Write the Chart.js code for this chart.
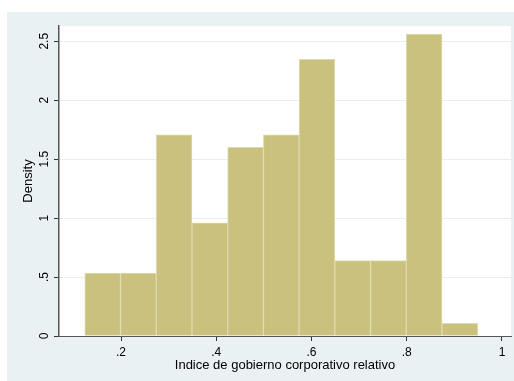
<!DOCTYPE html>
<html>
<head>
<meta charset="utf-8">
<script src="https://cdn.jsdelivr.net/npm/chart.js@4"></script>
<style>
  html, body { margin: 0; padding: 0; background: #fff; }
  canvas { display: block; }
</style>
</head>
<body>
<canvas id="hist" width="514" height="381"></canvas>
<script>
// histogram bins (left edges) and densities
const binStarts = [0.124, 0.199, 0.274, 0.349, 0.424, 0.499, 0.574, 0.649, 0.724, 0.799, 0.874];
const binWidth = 0.075;
const densities = [0.533, 0.533, 1.707, 0.96, 1.6, 1.707, 2.347, 0.64, 0.64, 2.56, 0.107];

const xTicks = [0.2, 0.4, 0.6, 0.8, 1];
const xTickLabels = ['.2', '.4', '.6', '.8', '1'];
const yTicks = [0, 0.5, 1, 1.5, 2, 2.5];
const yTickLabels = ['0', '.5', '1', '1.5', '2', '2.5'];

const FONT = '"Liberation Sans", Arial, sans-serif';

// stata-ish backgrounds
const bgPlugin = {
    id: 'bg',
    beforeDraw(chart) {
        const ctx = chart.ctx;
        const a = chart.chartArea;
        ctx.save();
        ctx.fillStyle = '#ffffff';
        ctx.fillRect(0, 0, chart.width, chart.height);
        ctx.fillStyle = '#eaf1f3';
        ctx.fillRect(7, 12, chart.width - 7, chart.height - 12);
        ctx.fillStyle = '#ffffff';
        ctx.fillRect(a.left, a.top, a.right - a.left, a.bottom - a.top);
        ctx.restore();
    }
};

// y tick labels are rotated in the original
const yLabelPlugin = {
    id: 'ylabels',
    afterDraw(chart) {
        const ctx = chart.ctx;
        const y = chart.scales.y;
        ctx.save();
        ctx.fillStyle = '#000';
        ctx.font = '12px ' + FONT;
        ctx.textAlign = 'center';
        ctx.textBaseline = 'alphabetic';
        yTicks.forEach((v, i) => {
            ctx.save();
            ctx.translate(y.left + 48, y.getPixelForValue(v));
            ctx.rotate(-Math.PI / 2);
            ctx.fillText(yTickLabels[i], 0, 0);
            ctx.restore();
        });
        ctx.restore();
    }
};

new Chart(document.getElementById('hist'), {
    type: 'bar',
    data: {
        datasets: [{
            data: binStarts.map((s, i) => ({ x: s + binWidth / 2, y: densities[i] })),
            backgroundColor: '#c9c17d',
            borderColor: '#dedaae',
            borderWidth: 1,
            borderSkipped: 'bottom',
            barPercentage: 1,
            categoryPercentage: 1
        }]
    },
    options: {
        responsive: false,
        animation: false,
        devicePixelRatio: 1,
        layout: { padding: { top: 26, right: 3, left: 0, bottom: 0 } },
        plugins: {
            legend: { display: false },
            tooltip: { enabled: false }
        },
        scales: {
            x: {
                type: 'linear',
                offset: false,
                min: 0.0698,
                max: 1.0189,
                afterBuildTicks: s => { s.ticks = xTicks.map(v => ({ value: v })); },
                afterFit: s => { s.height = 45; },
                ticks: {
                    color: '#000',
                    font: { family: FONT, size: 12 },
                    padding: 4,
                    maxRotation: 0,
                    autoSkip: false,
                    callback: v => xTickLabels[xTicks.indexOf(v)]
                },
                grid: {
                    offset: false,
                    drawOnChartArea: false,
                    tickLength: 5,
                    tickColor: '#333'
                },
                border: { color: '#555', width: 1 },
                title: {
                    display: true,
                    text: 'Indice de gobierno corporativo relativo',
                    color: '#000',
                    font: { family: FONT, size: 13 },
                    padding: { top: 0, bottom: 8 }
                }
            },
            y: {
                min: 0,
                max: 2.629,
                afterBuildTicks: s => { s.ticks = yTicks.map(v => ({ value: v })); },
                afterFit: s => { s.width = 59; },
                ticks: { display: false },
                grid: {
                    color: '#e6eef0',
                    tickLength: 5,
                    tickColor: '#333'
                },
                border: { color: '#555', width: 1.5 },
                title: {
                    display: true,
                    text: 'Density',
                    color: '#000',
                    font: { family: FONT, size: 13 },
                    padding: { top: 21, bottom: 0 }
                }
            }
        }
    },
    plugins: [bgPlugin, yLabelPlugin]
});
</script>
</body>
</html>
